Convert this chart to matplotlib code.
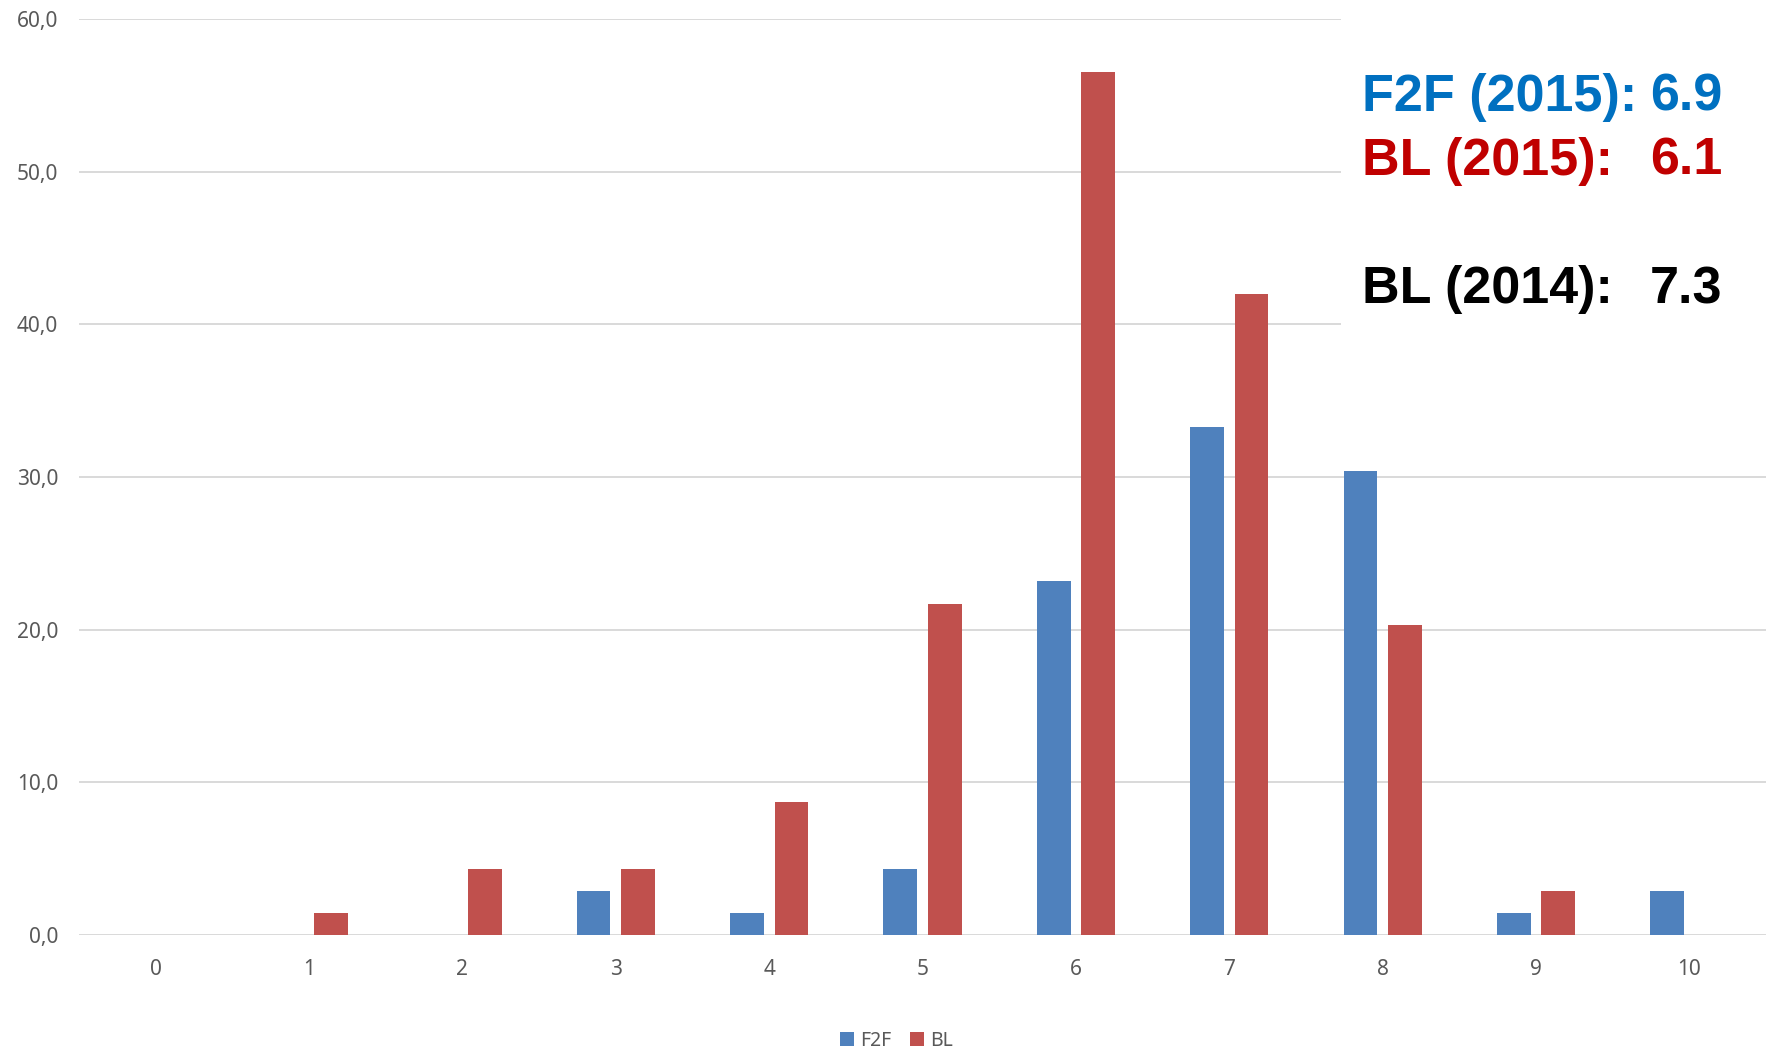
import numpy as np
import matplotlib
matplotlib.use('Agg')
import matplotlib.pyplot as plt
from matplotlib.patches import Rectangle

# Grade categories (0..10) and share of students per grade
grades   = [0, 1, 2, 3, 4, 5, 6, 7, 8, 9, 10]
f2f_vals = [0.0, 0.0, 0.0, 2.9, 1.45, 4.35, 23.2, 33.3, 30.4, 1.45, 2.9]
bl_vals  = [0.0, 1.45, 4.35, 4.35, 8.7, 21.7, 56.5, 42.0, 20.3, 2.9, 0.0]
series_names = ['F2F', 'BL']

# Mean grades shown in the top-right corner
mean_labels = ['F2F (2015):', 'BL (2015):', 'BL (2014):']
mean_values = ['6.9', '6.1', '7.3']

y_ticks = [0, 10, 20, 30, 40, 50, 60]

BLUE = '#4F81BD'
RED  = '#C0504D'
GRID = '#D9D9D9'
TICK = '#595959'

plt.rcParams['font.family'] = ['Noto Sans', 'DejaVu Sans']

fig = plt.figure(figsize=(17.75, 10.49), dpi=100)
ax = fig.add_axes([0.0445, 0.1087, 0.9505, 0.8732])

x = np.array(grades)
w = 0.22
off = 0.145
b1 = ax.bar(x - off, f2f_vals, width=w, color=BLUE, zorder=2, label=series_names[0])
b2 = ax.bar(x + off, bl_vals, width=w, color=RED, zorder=2, label=series_names[1])

# Axes styling
ax.set_xlim(-0.5, 10.5)
ax.set_ylim(0, 60)
ax.set_yticks(y_ticks)
ax.set_yticklabels([f'{v:.1f}'.replace('.', ',') for v in y_ticks])
ax.set_xticks(grades)
ax.set_xticklabels([str(g) for g in grades])
ax.tick_params(axis='y', length=0, pad=15, labelsize=15, labelcolor=TICK)
ax.tick_params(axis='x', length=0, pad=17, labelsize=15, labelcolor=TICK)
ax.grid(axis='y', color=GRID, linewidth=1.4, zorder=0)
ax.set_axisbelow(True)
for s in ax.spines.values():
    s.set_visible(False)

# White box behind the mean-grade text (covers gridlines like in the original)
ax.add_patch(Rectangle((0.7555, 0.676), 0.25, 0.33, transform=fig.transFigure,
                       facecolor='white', edgecolor='none', zorder=1.5, clip_on=False))

# Mean-grade annotations
colors = ['#0070C0', '#C00000', '#000000']
ys = [97, 161, 290]
for lab, val, col, yy in zip(mean_labels, mean_values, colors, ys):
    fy = 1 - yy / 1049
    fig.text(1362 / 1775, fy, lab, color=col, fontsize=37.5, fontweight='bold',
             family='Liberation Sans', ha='left', va='center', zorder=5)
    fig.text(1650 / 1775, fy, val, color=col, fontsize=37.5, fontweight='bold',
             family='Liberation Sans', ha='left', va='center', zorder=5)

# Legend at the bottom
fig.legend(handles=[b1, b2], labels=series_names, loc='center', ncol=2,
           bbox_to_anchor=(0.505, 0.008), frameon=False, fontsize=14,
           handlelength=0.7, handleheight=0.7, handletextpad=0.3, columnspacing=1.0,
           labelcolor=TICK)

fig.savefig('out.png', dpi=100)
